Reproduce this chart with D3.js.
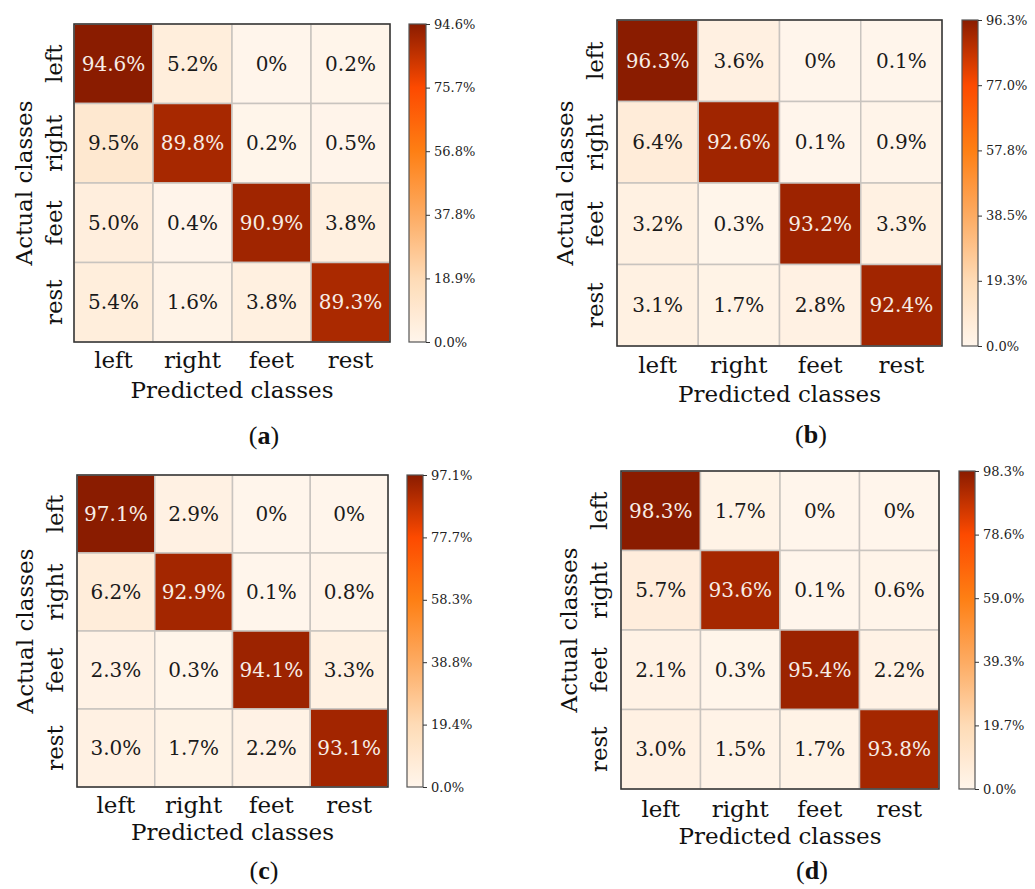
<!DOCTYPE html>
<html><head><meta charset="utf-8">
<script src="https://cdn.jsdelivr.net/npm/d3@7"></script>
<style>body{margin:0;background:#fff}</style>
</head><body>
<svg id="c" width="1035" height="889"></svg>
<script>
const classes = ["left","right","feet","rest"];
const panelLabels = ["a","b","c","d"];
const matA = [[94.6,5.2,0,0.2],[9.5,89.8,0.2,0.5],[5.0,0.4,90.9,3.8],[5.4,1.6,3.8,89.3]];
const matB = [[96.3,3.6,0,0.1],[6.4,92.6,0.1,0.9],[3.2,0.3,93.2,3.3],[3.1,1.7,2.8,92.4]];
const matC = [[97.1,2.9,0,0],[6.2,92.9,0.1,0.8],[2.3,0.3,94.1,3.3],[3.0,1.7,2.2,93.1]];
const matD = [[98.3,1.7,0,0],[5.7,93.6,0.1,0.6],[2.1,0.3,95.4,2.2],[3.0,1.5,1.7,93.8]];
const matrices = [matA, matB, matC, matD];
// colormap stops (fraction of max -> colour)
const cmapStops = [0, 0.2, 0.4, 0.6, 0.8, 1.0];
const cmapColors = ["#fff5eb", "#fedbb6", "#fdab62", "#fe7f14", "#fd4a00", "#8a1c00"];

// layout of each panel
const layout = [
  {x0:74, x1:390, y0:24, y1:342, cb0:409, cb1:426, rowX:62, ylabX:32, xtickY:368, xlabY:398, capX:264, capY:444},
  {x0:617, x1:942, y0:20, y1:346, cb0:962, cb1:978, rowX:603, ylabX:573, xtickY:373, xlabY:402, capX:811, capY:443},
  {x0:77, x1:388, y0:475, y1:787, cb0:407, cb1:423, rowX:63, ylabX:33, xtickY:813, xlabY:840, capX:264, capY:879},
  {x0:621, x1:939, y0:471, y1:789, cb0:959, cb1:975, rowX:607, ylabX:577, xtickY:817, xlabY:844, capX:812, capY:879}
];

const svg = d3.select("#c");
const defs = svg.append("defs");
const serif = "'DejaVu Serif', serif";

matrices.forEach((m, pi) => {
  const L = layout[pi];
  const max = d3.max(m.flat());
  const color = d3.scaleLinear().domain(cmapStops.map(s => s*max)).range(cmapColors).interpolate(d3.interpolateRgb).clamp(true);
  const x = d3.scaleBand().domain(classes).range([L.x0, L.x1]);
  const y = d3.scaleBand().domain(classes).range([L.y0, L.y1]);
  const g = svg.append("g");
  const cells = [];
  m.forEach((row, i) => row.forEach((v, j) => cells.push({r: classes[i], c: classes[j], v})));
  g.selectAll("rect.cell").data(cells).join("rect")
    .attr("x", d => x(d.c)).attr("y", d => y(d.r))
    .attr("width", x.bandwidth()).attr("height", y.bandwidth())
    .attr("fill", d => color(d.v)).attr("stroke", "#c9c4bf").attr("stroke-width", 1.5);
  g.selectAll("text.val").data(cells).join("text")
    .attr("x", d => x(d.c) + x.bandwidth()/2).attr("y", d => y(d.r) + y.bandwidth()/2)
    .attr("text-anchor", "middle").attr("dominant-baseline", "central")
    .attr("font-family", serif).attr("font-size", 20)
    .attr("fill", d => d.v > max*0.5 ? "#f7ede6" : "#1a1a1a")
    .text(d => d.v === 0 ? "0%" : d.v.toFixed(1) + "%");
  g.append("rect").attr("x", L.x0).attr("y", L.y0).attr("width", L.x1-L.x0).attr("height", L.y1-L.y0)
    .attr("fill", "none").attr("stroke", "#333").attr("stroke-width", 1.5);
  // x tick labels
  g.selectAll("text.xt").data(classes).join("text")
    .attr("x", d => x(d) + x.bandwidth()/2).attr("y", L.xtickY)
    .attr("text-anchor", "middle").attr("font-family", serif).attr("font-size", 23).attr("fill", "#111")
    .text(d => d);
  // y tick labels
  g.selectAll("text.yt").data(classes).join("text")
    .attr("transform", d => `translate(${L.rowX},${y(d) + y.bandwidth()/2}) rotate(-90)`)
    .attr("text-anchor", "middle").attr("font-family", serif).attr("font-size", 23).attr("fill", "#111")
    .text(d => d);
  g.append("text").attr("x", (L.x0+L.x1)/2).attr("y", L.xlabY).attr("text-anchor", "middle")
    .attr("font-family", serif).attr("font-size", 23).attr("fill", "#111").text("Predicted classes");
  g.append("text").attr("transform", `translate(${L.ylabX},${(L.y0+L.y1)/2}) rotate(-90)`).attr("text-anchor", "middle")
    .attr("font-family", serif).attr("font-size", 23).attr("fill", "#111").text("Actual classes");
  // caption
  const cap = g.append("text").attr("x", L.capX).attr("y", L.capY).attr("text-anchor", "middle")
    .attr("font-family", "'Liberation Serif', serif").attr("font-size", 26).attr("fill", "#111");
  cap.append("tspan").text("(");
  cap.append("tspan").attr("font-weight", "bold").text(panelLabels[pi]);
  cap.append("tspan").text(")");
  // colorbar
  const gid = "grad" + pi;
  const grad = defs.append("linearGradient").attr("id", gid).attr("x1", 0).attr("x2", 0).attr("y1", 1).attr("y2", 0);
  d3.range(0, 1.0001, 0.05).forEach(t => grad.append("stop").attr("offset", t).attr("stop-color", color(t*max)));
  const cy = d3.scaleLinear().domain([0, max]).range([L.y1, L.y0]);
  g.append("rect").attr("x", L.cb0).attr("y", L.y0).attr("width", L.cb1-L.cb0).attr("height", L.y1-L.y0)
    .attr("fill", `url(#${gid})`).attr("stroke", "#555").attr("stroke-width", 1.2);
  const ticks = d3.range(0, 6).map(k => max*k/5);
  const axis = d3.axisRight(cy).tickValues(ticks).tickSize(4).tickPadding(4).tickFormat(v => v.toFixed(1) + "%");
  const ag = g.append("g").attr("transform", `translate(${L.cb1},0)`).call(axis);
  ag.select(".domain").remove();
  ag.selectAll(".tick line").attr("stroke", "#333");
  ag.selectAll(".tick text").attr("font-family", serif).attr("font-size", 13).attr("fill", "#222");
});
</script>
</body></html>
